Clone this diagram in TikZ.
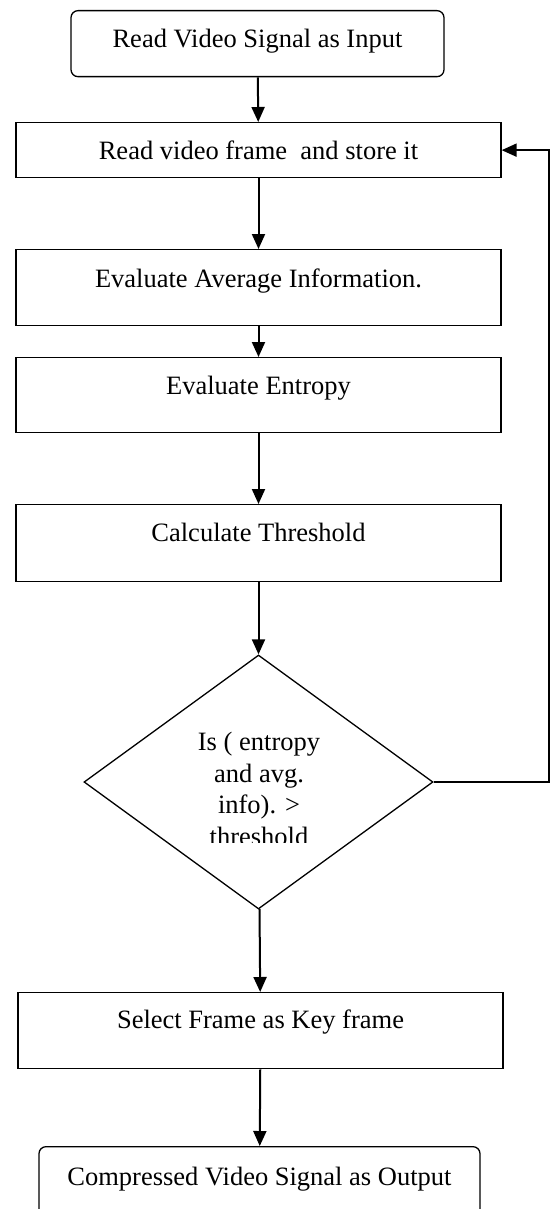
\documentclass[tikz,border=0pt]{standalone}
\usepackage{fontspec}
\setmainfont{Liberation Serif}
\usetikzlibrary{arrows.meta,calc,positioning,shapes}
\tikzset{
chart/.style={x=1pt,y=-1pt,>={Triangle[length=15pt,width=13pt]},
    font=\fontsize{26.5}{31.6}\selectfont},
procbox/.style={rectangle,draw,line width=1.3pt,inner sep=0pt,anchor=north,
    minimum width=#1},
procbox/.default={485pt},
termbox/.style={procbox=#1,rounded corners=7pt},
decision/.style={diamond,draw,line width=1.3pt,inner sep=0pt,
    minimum width=349pt,minimum height=254pt},
flow/.style={->,line width=2pt},
}
\begin{document}
\begin{tikzpicture}[chart]

    \useasboundingbox (0,0) rectangle (555,1209);

    \node[termbox=373pt,text height=37pt,text depth=29pt] (start) at (257.5,10) {Read Video Signal as Input};
    \node[procbox,text height=37pt,text depth=18pt] (read) at (258.5,122) {Read video frame\ \ and store it};
    \node[procbox,text height=38pt,text depth=38pt] (avginfo) at (258.5,249) {Evaluate Average Information.};
    \node[procbox,text height=37pt,text depth=38pt] (entropy) at (258.5,357) {Evaluate Entropy};
    \node[procbox,text height=37pt,text depth=40pt] (thresh) at (258.5,504) {Calculate Threshold};
    \node[decision] (dec) at (258.5,782) {};
    \node[procbox,text height=36pt,text depth=40pt] (keyfr) at (260.5,992) {Select Frame as Key frame};
    \node[termbox=441pt,text height=39pt,text depth=40pt] (output) at (259.5,1146) {Compressed Video Signal as Output};

    \begin{scope}
        \clip (100,700) rectangle (420,842);
        \node[align=center,inner sep=0pt,anchor=north] (dtext) at (259,732)
            {Is ( entropy\\and avg.\\info). >\\threshold};
    \end{scope}

    \coordinate (loop) at (549,782);

    \path[flow]
        (start) edge (read)
        (read) edge (avginfo)
        (avginfo) edge (entropy)
        (entropy) edge (thresh)
        (thresh) edge (dec)
        (dec) edge (keyfr)
        (keyfr) edge (output)
    ;
    \draw[flow] (dec.east) -- (loop) |- (read.east);
\end{tikzpicture}
\end{document}
